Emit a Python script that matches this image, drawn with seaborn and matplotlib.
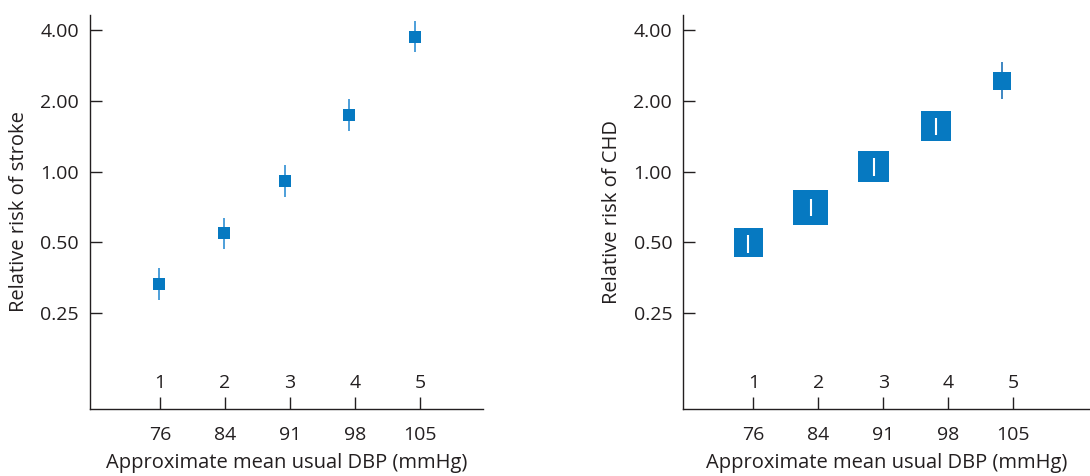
import numpy as np
import pandas as pd
import seaborn as sns
import matplotlib.pyplot as plt
from matplotlib.ticker import NullLocator

# 1) Values
groups = ["1", "2", "3", "4", "5"]
dbp_labels = ["76", "84", "91", "98", "105"]
group_pos = [1, 2, 3, 4, 5]

# stroke panel: relative risk with 95% CI
stroke_x = [0.99, 1.98, 2.93, 3.91, 4.93]
stroke_rr = [0.331, 0.546, 0.909, 1.736, 3.76]
stroke_lo = [0.283, 0.467, 0.782, 1.49, 3.23]
stroke_hi = [0.387, 0.636, 1.067, 2.03, 4.39]

# CHD panel: relative risk with 95% CI, square area ~ weight
chd_x = [0.92, 1.88, 2.85, 3.81, 4.82]
chd_rr = [0.497, 0.703, 1.048, 1.564, 2.43]
chd_lo = [0.452, 0.647, 0.96, 1.432, 2.04]
chd_hi = [0.537, 0.762, 1.139, 1.687, 2.92]
chd_weight = [0.715, 1.0, 0.827, 0.73, 0.269]

y_ticks = [0.25, 0.5, 1, 2, 4]
y_labels = ["0.25", "0.50", "1.00", "2.00", "4.00"]

# 2) Style
sns.set_style("ticks")
plt.rcParams["font.family"] = ["Open Sans", "DejaVu Sans"]
blue = "#0679c1"
ink = "#231f20"
fs = 14
DPI = 100

fig = plt.figure(figsize=(10.9, 4.76), dpi=DPI)
ax1 = fig.add_axes([90 / 1090, 67 / 476, 393 / 1090, 394 / 476])
ax2 = fig.add_axes([683.3 / 1090, 67 / 476, 406.7 / 1090, 394 / 476])


def setup_axis(ax, ylabel, xmax):
    ax.set_yscale("log", base=2)
    ax.set_ylim(0.0975, 4.65)
    ax.set_xlim(-0.077, xmax)
    ax.set_yticks(y_ticks)
    ax.set_yticklabels(y_labels)
    ax.yaxis.set_minor_locator(NullLocator())
    ax.set_xticks(group_pos)
    ax.set_xticklabels(dbp_labels)
    ax.tick_params(direction="in", length=8.5, width=1, color=ink,
                   labelcolor=ink, labelsize=fs)
    ax.tick_params(axis="x", pad=12)
    ax.tick_params(axis="y", pad=8)
    for side in ["left", "bottom"]:
        ax.spines[side].set_linewidth(1)
        ax.spines[side].set_color(ink)
    sns.despine(ax=ax)
    # group numbers sit inside the axes, just above the ticks
    for g, p in zip(groups, group_pos):
        ax.text(p, 0.066, g, transform=ax.get_xaxis_transform(),
                ha="center", va="center", fontsize=fs, color=ink)
    ax.set_xlabel("Approximate mean usual DBP (mmHg)", fontsize=fs + 0.5,
                  color=ink, labelpad=7)
    ax.set_ylabel(ylabel, fontsize=fs + 0.5, color=ink, labelpad=8)


# 3) Left panel: stroke
setup_axis(ax1, "Relative risk of stroke", -0.077 + 393 / 65)
stroke_df = pd.DataFrame({"x": stroke_x, "rr": stroke_rr})
ax1.vlines(stroke_x, stroke_lo, stroke_hi, color="#2f8fd3", lw=1.2, zorder=2)
sns.scatterplot(data=stroke_df, x="x", y="rr", marker="s", s=81, color=blue,
                linewidth=0, ax=ax1, zorder=3, legend=False)
ax1.set_xlabel("Approximate mean usual DBP (mmHg)")
ax1.set_ylabel("Relative risk of stroke")

# 4) Right panel: CHD
max_area = 610
setup_axis(ax2, "Relative risk of CHD", -0.077 + 406.7 / 65)
chd_df = pd.DataFrame({"x": chd_x, "rr": chd_rr, "w": chd_weight})
sns.scatterplot(data=chd_df, x="x", y="rr", size="w", sizes=(0, max_area),
                size_norm=(0, 1), marker="s", color=blue, linewidth=0,
                ax=ax2, zorder=3, legend=False)
# CI drawn white when it fits inside its square, blue otherwise
for x, rr, lo, hi, w in zip(chd_x, chd_rr, chd_lo, chd_hi, chd_weight):
    half = np.sqrt(max_area * w) * DPI / 72 / 2
    _, y_c = ax2.transData.transform((x, rr))
    _, y_lo = ax2.transData.transform((x, lo))
    _, y_hi = ax2.transData.transform((x, hi))
    if y_hi - y_c < half and y_c - y_lo < half:
        ax2.vlines(x, lo, hi, color="white", lw=1.5, zorder=4)
    else:
        ax2.vlines(x, lo, hi, color="#1d72b8", lw=1.2, zorder=2)
ax2.set_xlabel("Approximate mean usual DBP (mmHg)")
ax2.set_ylabel("Relative risk of CHD")

fig.savefig("out.png", dpi=DPI)
